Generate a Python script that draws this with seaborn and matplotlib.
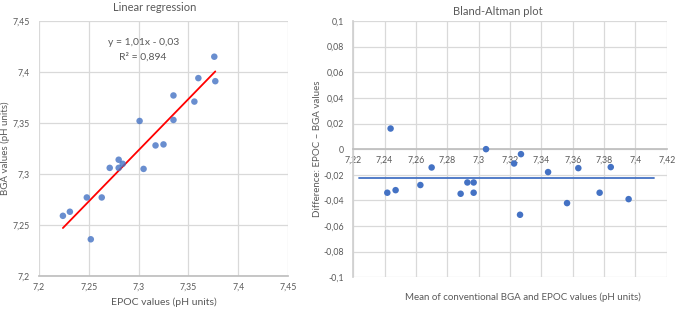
import numpy as np
import pandas as pd
import matplotlib
matplotlib.use("Agg")
import matplotlib.pyplot as plt
from matplotlib.ticker import FuncFormatter, MultipleLocator
import seaborn as sns

# Linear regression data (EPOC vs BGA)
epoc = [7.376, 7.360, 7.377, 7.335, 7.356, 7.301, 7.335, 7.317, 7.325, 7.280,
        7.284, 7.271, 7.280, 7.305, 7.248, 7.263, 7.231, 7.224, 7.252]
bga = [7.415, 7.394, 7.391, 7.377, 7.371, 7.352, 7.353, 7.328, 7.329, 7.314,
       7.310, 7.306, 7.306, 7.305, 7.277, 7.277, 7.263, 7.259, 7.236]

# Bland-Altman data
ba_mean = [7.2438, 7.3047, 7.3270, 7.2700, 7.3226, 7.3443, 7.3636, 7.3843, 7.2417, 7.2470,
           7.2628, 7.2885, 7.2928, 7.2968, 7.2968, 7.3772, 7.3564, 7.3957, 7.3264]
ba_diff = [0.0161, 0.0, -0.0039, -0.0143, -0.0112, -0.0179, -0.0148, -0.0140, -0.0340, -0.0320,
           -0.0280, -0.0348, -0.0260, -0.0260, -0.0340, -0.0340, -0.0421, -0.0390, -0.0512]
bias = -0.0226
bias_x = [7.2236, 7.412]

equation = "y = 1,01x - 0,03"
r2_text = "R² = 0,894"

BLUE = "#4472C4"
GRID = "#D9D9D9"
TXT = "#595959"
FONT = ["Lato", "DejaVu Sans"]

sns.set_theme(style="white")
plt.rcParams["font.family"] = FONT

def comma(v, pos=None):
    s = f"{v:.2f}".rstrip("0").rstrip(".")
    if s in ("-0", ""):
        s = "0"
    return s.replace(".", ",")

fig = plt.figure(figsize=(6.76, 3.09), dpi=100)
ax1 = fig.add_axes([39/676, 1-276/309, 249/676, 255/309])
ax2 = fig.add_axes([353.3/676, 1-277.3/309, 313.4/676, 256.3/309])

df1 = pd.DataFrame({"EPOC": epoc, "BGA": bga})
sns.regplot(data=df1, x="EPOC", y="BGA", ax=ax1, ci=None,
            scatter_kws=dict(color=BLUE, s=22, edgecolor="none", zorder=3),
            line_kws=dict(color="#FF0000", lw=1.3, zorder=2))
ax1.set_xlim(7.2, 7.45)
ax1.set_ylim(7.2, 7.45)
ax1.xaxis.set_major_locator(MultipleLocator(0.05))
ax1.yaxis.set_major_locator(MultipleLocator(0.05))
ax1.xaxis.set_major_formatter(FuncFormatter(comma))
ax1.yaxis.set_major_formatter(FuncFormatter(comma))
ax1.grid(True, color=GRID, lw=0.9)
ax1.set_axisbelow(True)
for s in ["top", "right", "left"]:
    ax1.spines[s].set_visible(False)
ax1.spines["bottom"].set_color("#BFBFBF")
ax1.tick_params(axis="both", length=0, labelsize=6.3, colors=TXT)
ax1.tick_params(axis="x", pad=5)
ax1.tick_params(axis="y", pad=6.5)
ax1.set_xlabel("EPOC values (pH units)", fontsize=7.5, color=TXT, labelpad=4)
ax1.set_ylabel("BGA values (pH units)", fontsize=7, color=TXT)
ax1.yaxis.set_label_coords((10 - 39) / 249, 0.5)
ax1.set_title("Linear regression", fontsize=8, color=TXT, pad=7,
              x=(155 - 39) / 249)
ax1.text(7.3046, 7.4287, equation, ha="center", va="center", fontsize=7.5, color=TXT)
ax1.text(7.3046, 7.4150, r2_text, ha="center", va="center", fontsize=7.5, color=TXT)

df2 = pd.DataFrame({"mean": ba_mean, "diff": ba_diff})
sns.scatterplot(data=df2, x="mean", y="diff", ax=ax2, color=BLUE, s=22,
                edgecolor="none", zorder=3)
sns.lineplot(x=bias_x, y=[bias, bias], ax=ax2, color=BLUE, lw=1.3, zorder=2)
ax2.set_xlim(7.22, 7.42)
ax2.set_ylim(-0.1, 0.1)
ax2.xaxis.set_major_locator(MultipleLocator(0.02))
ax2.yaxis.set_major_locator(MultipleLocator(0.02))
ax2.xaxis.set_major_formatter(FuncFormatter(comma))
ax2.yaxis.set_major_formatter(FuncFormatter(comma))
ax2.grid(True, color=GRID, lw=0.9)
ax2.set_axisbelow(True)
for s in ["top", "right"]:
    ax2.spines[s].set_visible(False)
ax2.spines["left"].set_color("#D0D0D0")
ax2.spines["bottom"].set_position(("data", 0))
ax2.spines["bottom"].set_color("#BFBFBF")
ax2.tick_params(axis="both", length=0, labelsize=6.3, colors=TXT)
ax2.tick_params(axis="x", pad=4.5)
ax2.tick_params(axis="y", pad=6.5)
ax2.set_xlabel("")
ax2.set_ylabel("Difference: EPOC – BGA values", fontsize=7, color=TXT)
ax2.yaxis.set_label_coords((322 - 353.3) / 313.4, 0.5)
ax2.set_title("Bland-Altman plot", fontsize=8, color=TXT, pad=4,
              x=(498 - 353.3) / 313.4)
fig.text(523/676, 1-297/309, "Mean of conventional BGA and EPOC values (pH units)",
         ha="center", va="center", fontsize=7, color=TXT)

fig.savefig("out.png", dpi=100)
